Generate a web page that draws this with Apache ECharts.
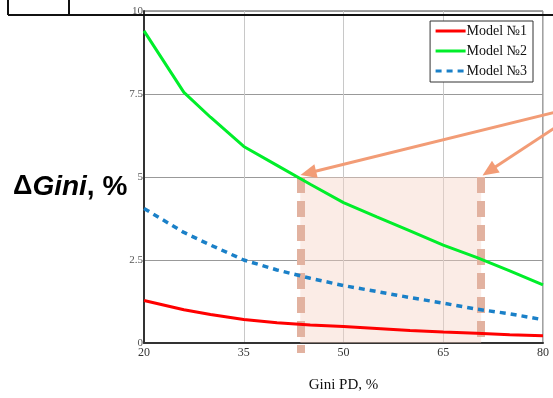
<!DOCTYPE html>
<html>
<head>
<meta charset="utf-8">
<script src="https://cdn.jsdelivr.net/npm/echarts@6/dist/echarts.min.js"></script>
<style>
  html, body { margin: 0; padding: 0; background: #fff; }
  #chart { width: 553px; height: 398px; }
</style>
</head>
<body>
<div id="chart"></div>
<script>
// data
const giniPD = [20, 26, 30, 35, 40, 45, 50, 55, 60, 65, 70, 75, 80];
const model1 = [1.28, 1.0, 0.86, 0.71, 0.61, 0.54, 0.5, 0.44, 0.38, 0.33, 0.29, 0.25, 0.22];
const model2 = [9.4, 7.55, 6.8, 5.92, 5.35, 4.78, 4.23, 3.8, 3.38, 2.95, 2.58, 2.17, 1.75];
const model3 = [4.05, 3.33, 2.95, 2.5, 2.2, 1.95, 1.73, 1.55, 1.37, 1.2, 1.02, 0.88, 0.7];
const seriesNames = ['Model №1', 'Model №2', 'Model №3'];
const xTicks = [20, 35, 50, 65, 80];
const yTicks = [0, 2.5, 5, 7.5, 10];

// highlighted band
const bandFrom = 43.5;
const bandTo = 70.7;
const bandLevel = 5;

function pairs(vals) {
    return giniPD.map((x, i) => [x, vals[i]]);
}

const chart = echarts.init(document.getElementById('chart'));

const serif = '"Liberation Serif", "DejaVu Serif", serif';
const sans = '"Liberation Sans", Arial, sans-serif';
const bandColor = '#e2b2a0';
const arrowColor = '#f29c76';

chart.setOption({
    animation: false,
    grid: { left: 144, right: 10, top: 11, bottom: 51, show: true, borderColor: '#444', borderWidth: 1 },
    title: {
        text: '{d|Δ}{g|Gini}{p|, %}',
        left: 8,
        top: 168,
        textStyle: {
            rich: {
                d: { fontFamily: sans, fontSize: 27, color: '#000' },
                g: { fontFamily: sans, fontSize: 28, fontWeight: 'bold', fontStyle: 'italic', color: '#000' },
                p: { fontFamily: sans, fontSize: 28, fontWeight: 'bold', color: '#000' }
            }
        }
    },
    legend: {
        data: seriesNames,
        right: 20,
        top: 21,
        orient: 'vertical',
        itemGap: 6,
        itemWidth: 30,
        itemHeight: 14,
        padding: [3, 6, 4, 4],
        borderColor: '#333',
        borderWidth: 1,
        backgroundColor: '#fff',
        itemStyle: { opacity: 0 },
        lineStyle: { width: 3 },
        textStyle: { fontFamily: serif, fontSize: 14, color: '#111', padding: [0, 0, 0, -4] }
    },
    xAxis: {
        type: 'value',
        min: 20,
        max: 80,
        interval: 15,
        name: 'Gini PD, %',
        nameLocation: 'middle',
        nameGap: 35,
        nameTextStyle: { fontFamily: serif, fontSize: 15, color: '#111' },
        axisLine: { lineStyle: { color: '#333', width: 2 } },
        axisTick: { show: false },
        axisLabel: {
            fontFamily: serif, fontSize: 12, color: '#333', margin: 4,
            formatter: v => xTicks.includes(v) ? String(v) : ''
        },
        splitLine: { lineStyle: { color: '#c8c8c8', width: 1 } }
    },
    yAxis: {
        type: 'value',
        min: 0,
        max: 10,
        interval: 2.5,
        axisLine: { show: true, lineStyle: { color: '#333', width: 2 } },
        axisTick: { show: false },
        axisLabel: {
            fontFamily: serif, fontSize: 11, color: '#555', margin: 1,
            formatter: v => yTicks.includes(v) ? String(v) : ''
        },
        splitLine: { lineStyle: { color: '#999', width: 1 } }
    },
    graphic: [
        { type: 'line', shape: { x1: 8, y1: 15, x2: 553, y2: 15 }, style: { stroke: '#111', lineWidth: 2 }, z: 100 },
        { type: 'line', shape: { x1: 8, y1: 0, x2: 8, y2: 15 }, style: { stroke: '#111', lineWidth: 2 }, z: 100 },
        { type: 'line', shape: { x1: 69, y1: 0, x2: 69, y2: 15 }, style: { stroke: '#111', lineWidth: 2 }, z: 100 }
    ],
    series: [
        {
            name: seriesNames[0],
            type: 'line',
            data: pairs(model1),
            symbol: 'none',
            color: '#ff0000',
            lineStyle: { width: 3, color: '#ff0000' },
            z: 5
        },
        {
            name: seriesNames[1],
            type: 'line',
            data: pairs(model2),
            symbol: 'none',
            color: '#00ee2a',
            lineStyle: { width: 3, color: '#00ee2a' },
            z: 5
        },
        {
            name: seriesNames[2],
            type: 'line',
            data: pairs(model3),
            symbol: 'none',
            color: '#1a80c8',
            lineStyle: { width: 3.5, color: '#1a80c8', type: [6, 5] },
            z: 5
        },
        {
            id: 'band',
            type: 'line',
            data: [],
            z: 3,
            markArea: {
                silent: true,
                itemStyle: { color: 'rgba(246, 210, 195, 0.42)' },
                data: [[{ coord: [bandFrom, 0] }, { coord: [bandTo, bandLevel] }]]
            }
        }
    ]
});

// dashed band edges run a little below the axis, arrows come in from the right edge
const leftTop = chart.convertToPixel({ gridIndex: 0 }, [bandFrom, bandLevel]);
const leftBottom = chart.convertToPixel({ gridIndex: 0 }, [bandFrom, 0]);
const rightTop = chart.convertToPixel({ gridIndex: 0 }, [bandTo, bandLevel]);
const rightBottom = chart.convertToPixel({ gridIndex: 0 }, [bandTo, 0.12]);
const edgeStyle = { color: bandColor, width: 8, type: [16, 8] };
const arrowStyle = { color: arrowColor, width: 3, type: 'solid' };

chart.setOption({
    series: [{
        id: 'band',
        markLine: {
            silent: true,
            symbol: 'none',
            label: { show: false },
            data: [
                [{ x: leftTop[0], y: leftTop[1], lineStyle: edgeStyle }, { x: leftBottom[0], y: leftBottom[1] + 10 }],
                [{ x: rightTop[0], y: rightTop[1], lineStyle: edgeStyle }, { x: rightBottom[0], y: rightBottom[1] }],
                [{ x: 556, y: 112, symbol: 'none', lineStyle: arrowStyle },
                 { x: leftTop[0] + 8, y: leftTop[1] - 4, symbol: 'triangle', symbolSize: [14, 16] }],
                [{ x: 556, y: 127, symbol: 'none', lineStyle: arrowStyle },
                 { x: rightTop[0] + 8, y: rightTop[1] - 6, symbol: 'triangle', symbolSize: [14, 16] }]
            ]
        }
    }]
});
</script>
</body>
</html>
